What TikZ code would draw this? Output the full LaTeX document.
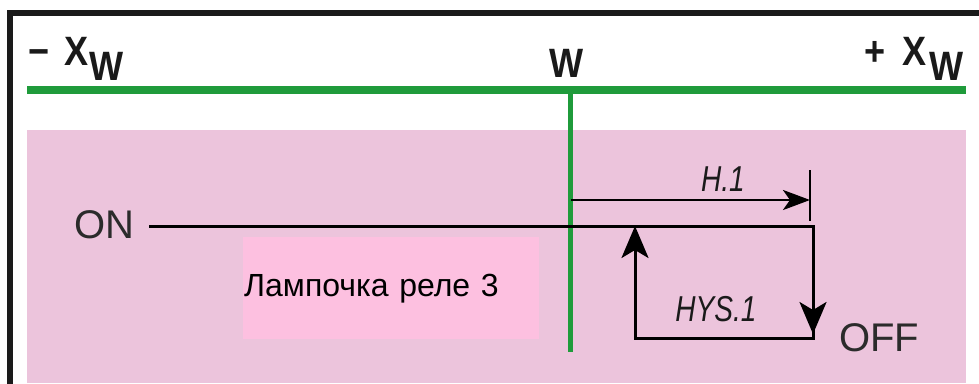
\documentclass[tikz,border=0pt]{standalone}
\usepackage{fontspec}
\usepackage{graphicx}
\setmainfont{Liberation Sans}
\usetikzlibrary{arrows.meta}
\definecolor{bgpink}{HTML}{ECC4DC}
\definecolor{boxpink}{HTML}{FDC0E0}
\definecolor{grn}{HTML}{1F9B3B}
\definecolor{txt}{HTML}{2B2B2B}
\definecolor{frame}{HTML}{1A1A1A}
\newcommand{\condensed}[1]{\scalebox{0.88}[1]{#1}}
\newcommand{\lcdtext}[1]{\scalebox{0.78}[1]{#1}}
\tikzset{
  axislbl/.style={inner sep=0pt, anchor=base west, text=frame, font=\fontsize{41}{41}\selectfont\bfseries},
  statelbl/.style={inner sep=0pt, anchor=base west, text=txt, font=\fontsize{40}{40}\selectfont},
  lcdlbl/.style={inner sep=0pt, text=frame, font=\fontsize{36}{36}\selectfont\itshape},
  sigline/.style={line width=3pt, black},
  bigarrow/.style={sigline, -{Stealth[length=32pt,width=27pt,inset=8pt]}},
  smallarrow/.style={line width=2.8pt, black, -{Stealth[length=27pt,width=20pt,inset=7pt]}},
  lampbox/.style={fill=boxpink, inner xsep=1pt, inner ysep=0pt, text width=294pt, align=left, minimum height=102pt, anchor=north west, font=\fontsize{32}{32}\selectfont, text=black}
}
\begin{document}
\begin{tikzpicture}[x=1pt,y=-1pt]
\useasboundingbox (0,0) rectangle (979,383);
\fill[white] (0,0) rectangle (979,383);
\fill[bgpink] (27,130) rectangle (966,383);
% frame
\draw[line width=6pt, frame] (10,390) -- (10,13) -- (990,13);
% axis
\coordinate (axL) at (27,90);
\coordinate (axR) at (966,90);
\coordinate (wTop) at (570.5,90);
\coordinate (wBot) at (570.5,352);
\draw[grn, line width=7.5pt] (axL) -- (axR);
\draw[grn, line width=4.5pt] (wTop) -- (wBot);
% axis labels
\node[axislbl] (minus) at (28,65) {\condensed{−}};
\node[axislbl] (xl) at (64,65) {\condensed{X}};
\node[axislbl] (wl) at (89,80) {\condensed{W}};
\node[axislbl] (plus) at (864,65) {\condensed{+}};
\node[axislbl] (xr) at (902,65) {\condensed{X}};
\node[axislbl] (wr) at (929,80) {\condensed{W}};
\node[axislbl] (wm) at (549,77) {\condensed{W}};
% lamp box
\node[lampbox] (lamp) at (243,237) {Лампочка реле 3};
% state labels
\node[statelbl] (on) at (74,238) {ON};
\node[statelbl] (off) at (839,351) {OFF};
% signal
\coordinate (onL) at (149,226);
\coordinate (onR) at (813,226);
\coordinate (brR) at (813,338);
\coordinate (brL) at (635,338);
\coordinate (upT) at (635,226);
\coordinate (dnT) at (813,334);
\draw[sigline, line join=miter] (onL) -- (onR) -- (brR) -- (brL) -- (635,280);
\draw[bigarrow] (brL) -- (upT);
\draw[bigarrow] (onR) -- (dnT);
% H.1
\coordinate (hS) at (571,200);
\coordinate (hE) at (810,200);
\coordinate (tickT) at (810,170);
\coordinate (tickB) at (810,221);
\draw[smallarrow] (hS) -- (hE);
\draw[line width=1.3pt, black] (tickT) -- (tickB);
\node[lcdlbl] (h1) at (723,179) {\lcdtext{H.1}};
\node[lcdlbl] (hys) at (716,309) {\lcdtext{HYS.1}};
\end{tikzpicture}
\end{document}
